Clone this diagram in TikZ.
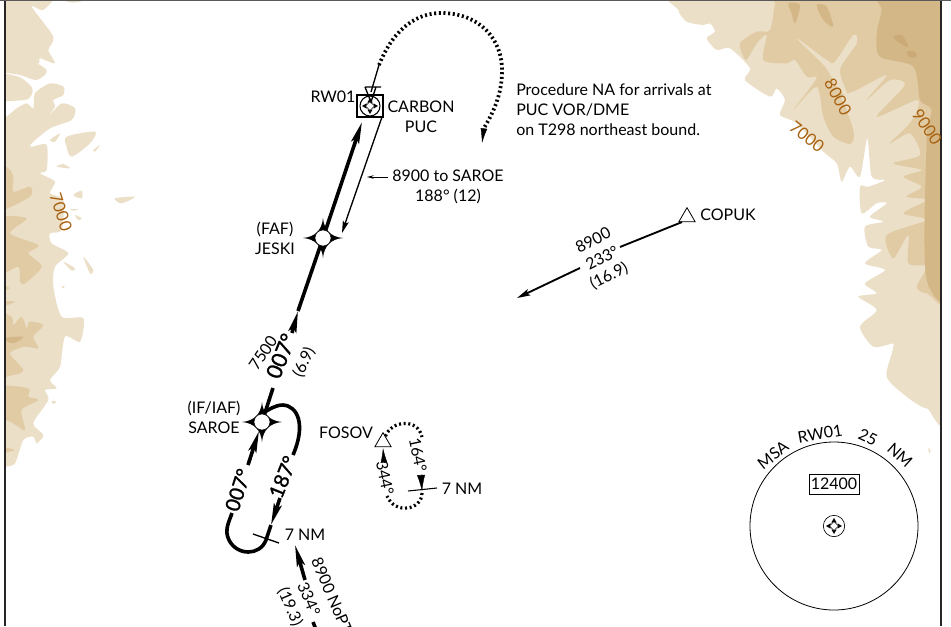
\documentclass[tikz,border=0pt]{standalone}
\usepackage{fontspec}
\setmainfont{Lato}
\newfontfamily\midfont[FakeBold=1.3]{Lato}
\usetikzlibrary{arrows.meta,shapes.geometric}
\definecolor{terlight}{HTML}{ECDFC7}
\definecolor{termid}{HTML}{E1CBA4}
\definecolor{terdark}{HTML}{D4B786}
\definecolor{terdeep}{HTML}{CBAA78}
\definecolor{contour}{HTML}{A8610F}
\tikzset{
  lbl/.style={inner sep=0pt,font=\fontsize{12}{15}\selectfont,align=center},
  biglbl/.style={inner sep=0pt,font=\fontsize{16}{16}\selectfont\midfont},
  holdlbl/.style={inner sep=0pt,font=\fontsize{15}{16}\selectfont\midfont},
  conlbl/.style={inner sep=0pt,text=contour,font=\fontsize{12.5}{12}\selectfont},
  thickcrs/.style={line width=2.7pt},
  thincrs/.style={line width=1pt},
  dotcrs/.style={line width=2.8pt,dash pattern=on 1.5pt off 2pt},
  headbig/.style={-{Stealth[length=16pt,width=6pt,inset=3pt]}},
  headthin/.style={-{Stealth[length=9pt,width=4.5pt,inset=1.5pt]}},
  headhold/.style={-{Latex[length=11pt,width=5pt]}},
  fixpt/.style={circle,draw,fill=white,line width=.4pt,minimum size=12pt,inner sep=0pt},
  ifrpt/.style={regular polygon,regular polygon sides=3,draw,fill=white,line width=.6pt,minimum size=14pt,inner sep=0pt},
  fixstar/.pic={\fill (-20,0) .. controls (-8,-1) and (-1,-8) .. (0,-20) .. controls (1,-8) and (8,-1) .. (20,0)
      .. controls (8,1) and (1,8) .. (0,20) .. controls (-1,8) and (-8,1) .. (-20,0) -- cycle;},
  compass/.pic={\foreach \ang in {0,90,180,270}{\fill[rotate=\ang] (8,0) -- (3.5,-2.6) -- (3.5,2.6) -- cycle;}
      \draw[line width=.35pt,fill=white] (0,-4.5) -- (4.5,0) -- (0,4.5) -- (-4.5,0) -- cycle;}
}
\begin{document}
\begin{tikzpicture}[x=.75pt,y=-.75pt]
\useasboundingbox (0,0) rectangle (951,626);
% <<< terrain
\begin{scope}
\clip (5,1) rectangle (940,626);
\begin{scope}[shift={(660,0)},scale=1/3]
\fill[terlight] plot[smooth cycle,tension=.45] coordinates {(75,-20)(55,30)(80,65)(130,75)(150,70)(165,95)(140,115)(170,150)(210,145)(270,205)(255,240)(330,290)(350,265)(375,300)(360,345)(410,370)(490,455)(530,490)(545,545)(570,500)(600,530)(622,415)(635,530)(675,540)(625,560)(600,560)(605,640)(650,610)(680,610)(630,650)(670,665)(615,680)(625,740)(665,750)(615,790)(675,810)(615,850)(650,880)(595,890)(650,930)(600,980)(640,1040)(700,1030)(805,1010)(730,960)(795,925)(730,905)(715,890)(700,1040)(680,1130)(740,1190)(800,1225)(870,1205)(900,-20)};
\fill[termid] plot[smooth cycle,tension=.45] coordinates {(350,-20)(345,10)(330,90)(290,95)(240,130)(258,180)(290,130)(320,105)(310,180)(380,190)(405,180)(440,230)(470,235)(400,330)(470,260)(490,350)(520,410)(570,432)(582,400)(560,330)(545,290)(590,270)(680,225)(620,300)(690,240)(735,255)(650,350)(770,300)(770,335)(745,375)(690,430)(750,400)(780,465)(700,490)(785,510)(730,530)(785,560)(740,590)(800,600)(730,640)(800,660)(680,705)(700,775)(745,705)(745,790)(800,800)(770,860)(800,880)(900,880)(900,-20)};
\fill[terlight] plot[smooth cycle,tension=.5] coordinates {(410,115)(500,180)(525,185)(580,105)(590,130)(540,210)(565,290)(530,260)(495,200)};
\fill[terdark] plot[smooth cycle,tension=.5] coordinates {(660,-20)(665,30)(650,100)(660,170)(760,200)(780,300)(815,330)(800,420)(800,840)(900,850)(900,-20)};
\fill[terdark] plot[smooth cycle,tension=.5] coordinates {(470,15)(500,20)(520,80)(490,60)};
\fill[terdark] plot[smooth cycle,tension=.5] coordinates {(385,10)(420,15)(405,70)(395,40)};
\fill[terdeep] plot[smooth cycle,tension=.5] coordinates {(700,110)(725,105)(745,140)(720,130)};
\fill[terdeep] plot[smooth cycle,tension=.5] coordinates {(740,155)(765,155)(770,170)(750,172)};
\fill[terlight] plot[smooth cycle,tension=.5] coordinates {(805,1345)(812,1350)(808,1360)};
\end{scope}
\begin{scope}[scale=1/3]
\fill[terlight] plot[smooth cycle,tension=.45] coordinates {(-20,-20)(160,-20)(130,30)(95,20)(160,110)(145,150)(165,190)(120,175)(115,190)(60,160)(140,210)(110,240)(60,225)(-10,215)(60,232)(97,265)(82,298)(-10,308)(-10,345)(15,352)(50,325)(80,310)(100,325)(105,280)(150,250)(190,260)(190,285)(160,300)(165,320)(145,350)(185,310)(225,325)(215,360)(150,385)(95,430)(95,440)(140,435)(140,510)(120,520)(165,545)(150,580)(190,600)(185,690)(150,700)(155,730)(205,760)(165,800)(160,860)(185,950)(250,955)(240,1025)(195,1010)(180,1100)(150,1140)(170,1165)(135,1170)(145,1200)(100,1270)(130,1305)(110,1330)(100,1310)(70,1320)(45,1390)(15,1400)(-20,1400)};
\foreach \isle in {{(150,420)(180,400)(165,425)},{(200,410)(285,395)(270,430)(215,470)(200,440)},{(280,450)(300,435)(285,455)},{(170,500)(190,492)(210,505)},{(220,585)(245,572)(245,595)},{(345,595)(405,590)(365,610)},{(225,645)(245,655)(235,660)},{(210,628)(235,628)(220,632)},{(250,770)(280,810)(270,820)},{(190,785)(225,805)(215,812)},{(190,0)(255,0)(220,8)},{(185,858)(195,860)(188,864)},{(155,1203)(170,1205)(160,1212)}}{
  \fill[terlight] plot[smooth cycle,tension=.5] coordinates \isle;
}
\foreach \isle in {{(-10,500)(25,505)(40,530)(40,575)(90,560)(90,590)(-10,630)},{(-10,660)(80,655)(30,700)(115,735)(85,760)(125,800)(75,850)(60,845)(55,800)(-10,820)},{(-10,850)(30,865)(-10,875)},{(-10,905)(45,905)(-10,925)},{(-10,945)(35,950)(40,975)(65,950)(80,985)(90,965)(130,975)(100,1010)(115,1045)(75,1040)(30,1060)(70,1110)(40,1125)(-10,1120)},{(-10,1160)(85,1165)(85,1190)(115,1200)(65,1230)(75,1290)(40,1270)(-10,1240)},{(-10,1340)(45,1350)(-10,1362)}}{
  \fill[termid] plot[smooth cycle,tension=.45] coordinates \isle;
}
\fill[terdark] plot[smooth cycle,tension=.5] coordinates {(10,1015)(70,1010)(40,1030)};
\end{scope}
\end{scope}
% <<< frame
\draw[line width=1.7pt,black!85] (5,0)--(5,626);
\draw[line width=1.9pt,black!85] (941,0)--(941,626);
\draw[line width=.9pt,black!65] (0,0)--(951,0);
% <<< contour labels
\path
(61,212) node[conlbl,rotate=-72] (contourA) {7000}
(838,97) node[conlbl,rotate=-62] (contourB) {8000}
(807,137) node[conlbl,rotate=-38] (contourC) {7000}
(927,127) node[conlbl,rotate=-55] (contourD) {9000};
% <<< points on the course
\coordinate (rwyTop) at (379,65);
\coordinate (rwyEnd) at (371,92);
\coordinate (missEnd) at (484,128);
\coordinate (missTip) at (482,143);
\coordinate (appTip) at (362,122);
\coordinate (appA) at (292,333);
\coordinate (appATip) at (298,311);
\coordinate (appB) at (273,388);
\coordinate (retA) at (382,117);
\coordinate (retTip) at (342,233);
\coordinate (leadA) at (388,177);
\coordinate (leadTip) at (367,177);
\coordinate (copA) at (620,247);
\coordinate (copB) at (580,268);
\coordinate (copTip) at (517,298);
\coordinate (noptTip) at (295,545);
\coordinate (noptA) at (305,580);
\coordinate (noptB) at (313,622);
\coordinate (noptC) at (317,632);
\node[draw,line width=1.1pt,minimum width=18.5pt,minimum height=16.5pt,inner sep=0pt] (carbon) at (370,106) {};
\node[fixpt] (jeski) at (323,238) {};
\node[fixpt] (saroe) at (262,422) {};
\node[ifrpt] (copuk) at (687,217) {};
\node[ifrpt] (fosov) at (383,442) {};
% <<< missed approach
\draw[dotcrs] (rwyTop) .. controls (395,25) and (420,13) .. (441,13) .. controls (480,13) and (503,40) .. (502,72) .. controls (502,95) and (492,115) .. (missEnd);
\draw[headhold,line width=.3pt] (missEnd)--(missTip);
\draw[line width=1pt] (rwyTop)--(rwyEnd);
% <<< airport symbol
\draw[line width=.8pt] (carbon) circle (10);
\path (carbon) pic {compass};
\draw[line width=1.1pt] (carbon.north west) rectangle (carbon.south east);
\draw[line width=1pt] (365,87)--(381,87) (365,87)--(371,102)--(376,87);
% <<< final approach
\draw[thickcrs,headbig] (jeski)--(appTip);
\draw[thickcrs,headbig] (appA)--(appATip);
\draw[thickcrs] (appATip)--(jeski);
\draw[thickcrs] (appB)--(saroe);
\draw[thincrs] (retA)--(348,215);
\draw[thincrs,headthin] (348,215)--(retTip);
\draw[line width=.7pt,-{Stealth[length=5pt,width=2.6pt]}] (leadA)--(leadTip);
% <<< holding at SAROE
\coordinate (holdA) at (293,455);
\coordinate (holdB) at (280,498);
\coordinate (holdC) at (232,513);
\coordinate (holdD) at (248,465);
\draw[thickcrs] (saroe.north) .. controls (268,410) and (275,405) .. (283,405) .. controls (298,406) and (306,425) .. (holdA);
\draw[thickcrs,headbig] (holdB)--(271,525);
\draw[thickcrs] (271,525)--(266,540) .. controls (260,556) and (237,556) .. (229,540) .. controls (224,530) and (229,522) .. (holdC);
\draw[thickcrs,headbig] (holdD)--(259,431);
\draw[thincrs] (253,534)--(279,543);
% <<< holding at FOSOV
\draw[dotcrs,line width=2.4pt] (fosov) .. controls (392,420) and (418,418) .. (422,437);
\draw[dotcrs,line width=2.4pt] (422,493) .. controls (422,510) and (395,515) .. (387,496);
\draw[-{Latex[length=11pt,width=5pt]},line width=.3pt] (384,463)--(383,448);
\draw[-{Latex[length=12pt,width=6pt]},line width=.3pt] (421,474)--(422,491);
\draw[thincrs,line width=.8pt] (408,491)--(437,488);
% <<< inbound from COPUK and bottom
\draw[line width=1.4pt] (copuk.south west)--(copA);
\draw[line width=1.4pt,-{Stealth[length=10pt,width=5pt,inset=2pt]}] (copB)--(copTip);
\draw[thickcrs,headbig] (noptA)--(noptTip);
\begin{scope}
\clip (0,0) rectangle (951,626);
\draw[thickcrs] (noptB)--(noptC);
\node[lbl,rotate=-67,anchor=west] (noptalt) at (316,558) {8900 NoPT};
\node[lbl,rotate=-67] (noptcrs) at (309,599) {334°};
\node[lbl,rotate=-67] (noptdst) at (290,607) {(19.3)};
\end{scope}
% <<< fix marks
\path (jeski) pic {fixstar};
\path (saroe) pic {fixstar};
\node[fixpt] at (jeski) {};
\node[fixpt] at (saroe) {};
% <<< labels
\path
(333,97) node[lbl] (rwLbl) {RW01}
(421,117) node[lbl] (carbonLbl) {CARBON\\PUC}
(448,187) node[lbl] (toSaroe) {8900 to SAROE\\188° (12)}
(516,110) node[lbl,anchor=west,align=left] (naLbl) {Procedure NA for arrivals at\\PUC VOR/DME\\on T298 northeast bound.}
(275,238) node[lbl] (jeskiLbl) {(FAF)\\JESKI}
(214,417) node[lbl] (saroeLbl) {(IF/IAF)\\SAROE}
(346,433) node[lbl] (fosovLbl) {FOSOV}
(728,215) node[lbl] (copukLbl) {COPUK}
(305,535) node[lbl] (holdLbl) {7 NM}
(462,489) node[lbl] (fosovNm) {7 NM}
(263,353) node[lbl,rotate=56] (altLbl) {7500}
(281,356) node[biglbl,rotate=68] (crsLbl) {007°}
(304,362) node[lbl,rotate=65] (dstLbl) {(6.9)}
(238,490) node[holdlbl,rotate=72] (holdIn) {007°}
(283,477) node[holdlbl,rotate=68] (holdOut) {187°}
(418,455) node[lbl,rotate=-78] (fosovOut) {164°}
(385,478) node[lbl,rotate=-78] (fosovIn) {344°}
(593,240) node[lbl,rotate=27] (copAlt) {8900}
(602,258) node[lbl,rotate=27] (copCrs) {233°}
(609,276) node[lbl,rotate=27] (copDst) {(16.9)};
% <<< MSA
\node[draw,circle,line width=.6pt,minimum size=126pt,inner sep=0pt] (msa) at (834,526) {};
\node[draw,line width=.5pt,minimum width=37.5pt,minimum height=15pt,lbl] (msaAlt) at (834,484) {12400};
\node[draw,circle,line width=.5pt,minimum size=16pt,inner sep=0pt] (msaVor) at (834,526) {};
\path (msaVor) pic {compass};
\path
(773,455) node[lbl,rotate=38] (msaA) {MSA}
(820,434) node[lbl,rotate=10] (msaB) {RW01}
(868,437) node[lbl,rotate=-25] (msaC) {25}
(900,455) node[lbl,rotate=-42] (msaD) {NM};
\end{tikzpicture}
\end{document}
